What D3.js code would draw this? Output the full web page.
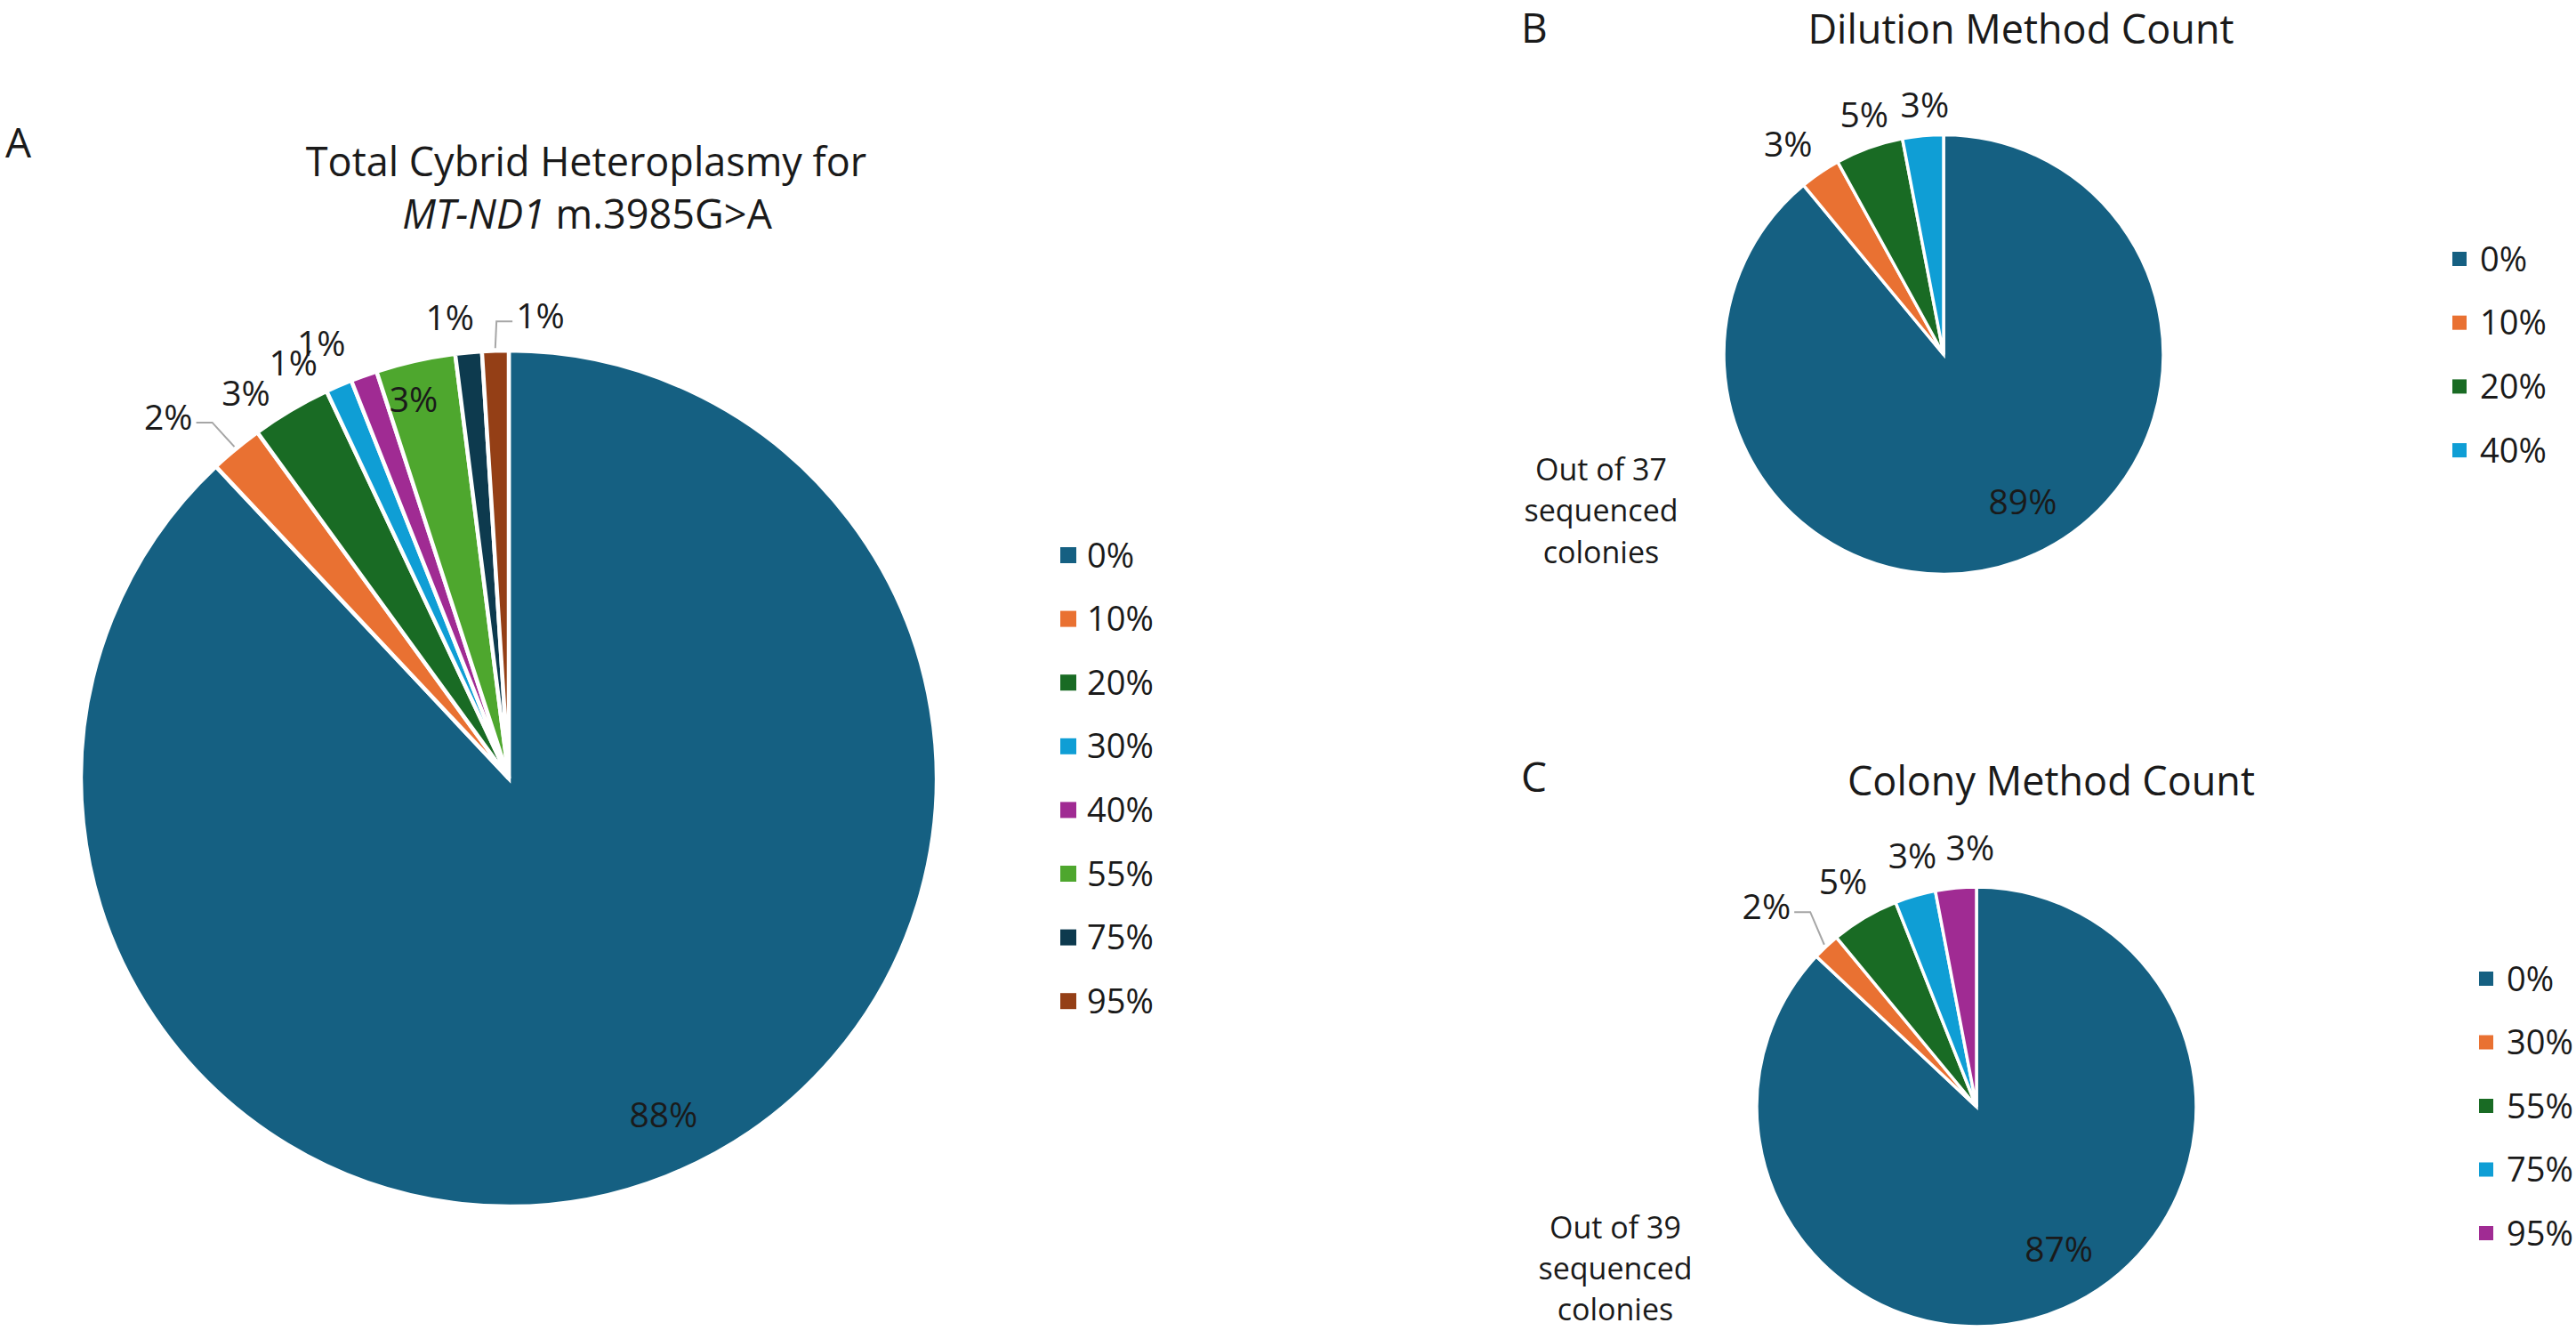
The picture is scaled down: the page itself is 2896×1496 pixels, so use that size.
<!DOCTYPE html>
<html><head><meta charset="utf-8">
<script src="https://cdn.jsdelivr.net/npm/d3@7"></script>
<style>
html,body{margin:0;padding:0;background:#fff;}
svg{display:block;font-family:"Open Sans",sans-serif;}
</style></head><body>
<svg id="chart" width="2896" height="1496"></svg>
<script>
// ---- data ----
const categoriesA = ["0%","10%","20%","30%","40%","55%","75%","95%"];
const valuesA     = [88, 2, 3, 1, 1, 3, 1, 1];
const categoriesB = ["0%","10%","20%","40%"];
const valuesB     = [89, 3, 5, 3];
const categoriesC = ["0%","30%","55%","75%","95%"];
const valuesC     = [87, 2, 5, 3, 3];
const titleA1 = "Total Cybrid Heteroplasmy for";
const titleA2italic = "MT-ND1";
const titleA2rest = " m.3985G>A";
const titleB = "Dilution Method Count";
const titleC = "Colony Method Count";
const noteB = ["Out of 37","sequenced","colonies"];
const noteC = ["Out of 39","sequenced","colonies"];

// ---- styling / layout ----
const palette = ["#156082","#E97132","#196B24","#0F9ED5","#A02B93","#4EA72E","#0D3A4E","#943F16"];
const svg = d3.select("#chart");
const textColor = "#1a1a1a";

const panels = [
  { cats: categoriesA, vals: valuesA, cx: 572, cy: 875, r: 481, stroke: 4.5,
    letter: "A", letterX: 6, letterY: 177,
    legendX: 1192, legendY0: 624, legendStep: 71.6, sw: 18, textGap: 12, legendFont: 38,
    labels: [ {f:0.865, da:-3.1}, {f:1.16, da:-3.7, leader:"right"}, {f:1.09, da:-3.7},
              {f:1.094, da:-4}, {f:1.108, da:-3.5}, {f:0.913, da:-1.5},
              {f:1.085, da:-1.9}, {f:1.083, da:5.7, leader:"left"} ] },
  { cats: categoriesB, vals: valuesB, cx: 2185, cy: 398.5, r: 247, stroke: 3.5,
    letter: "B", letterX: 1710, letterY: 48,
    legendX: 2757, legendY0: 291, legendStep: 71.7, sw: 16, textGap: 15, legendFont: 38,
    labels: [ {f:0.76, da:-8.5}, {f:1.19, da:-2.3}, {f:1.15, da:1.5}, {f:1.14, da:1.1} ] },
  { cats: categoriesC, vals: valuesC, cx: 2222, cy: 1244, r: 247, stroke: 3.5,
    letter: "C", letterX: 1710, letterY: 890,
    legendX: 2787, legendY0: 1100, legendStep: 71.5, sw: 16, textGap: 15, legendFont: 38,
    labels: [ {f:0.75, da:-6.6}, {f:1.32, da:-3.2, leader:"right"}, {f:1.19, da:-0.1},
              {f:1.18, da:1.9}, {f:1.18, da:4.0} ] }
];

const pie = d3.pie().sort(null).value(d => d).startAngle(0).endAngle(2 * Math.PI);

panels.forEach(p => {
  const g = svg.append("g");
  const arcs = pie(p.vals);
  const arc = d3.arc().innerRadius(0).outerRadius(p.r);
  const color = d3.scaleOrdinal().domain(p.cats).range(palette);

  g.selectAll("path.slice").data(arcs).enter().append("path")
    .attr("class", "slice")
    .attr("transform", `translate(${p.cx},${p.cy})`)
    .attr("d", arc)
    .attr("fill", (d, i) => color(p.cats[i]))
    .attr("stroke", "#fff")
    .attr("stroke-width", p.stroke)
    .attr("stroke-linejoin", "miter");

  // data labels
  arcs.forEach((d, i) => {
    const L = p.labels[i];
    const a = (d.startAngle + d.endAngle) / 2 + L.da * Math.PI / 180;
    const x = p.cx + L.f * p.r * Math.sin(a);
    const y = p.cy - L.f * p.r * Math.cos(a);
    const t = g.append("text")
      .attr("x", x).attr("y", y).attr("dy", "0.36em")
      .attr("text-anchor", "middle")
      .attr("font-size", 39)
      .attr("fill", textColor)
      .text(Math.round(p.vals[i]) + "%");
    if (L.leader) {
      const bb = t.node().getBBox();
      const mid = (d.startAngle + d.endAngle) / 2;
      const ex = p.cx + (p.r + 3) * Math.sin(mid);
      const ey = p.cy - (p.r + 3) * Math.cos(mid);
      const ly = y + 6;
      let sx, kx;
      if (L.leader === "right") { sx = bb.x + bb.width + 4; kx = sx + 18; }
      else { sx = bb.x - 4; kx = sx - 18; }
      g.append("path")
        .attr("d", `M${sx},${ly}L${kx},${ly}L${ex},${ey}`)
        .attr("fill", "none").attr("stroke", "#a6a6a6").attr("stroke-width", 2);
    }
  });

  // legend
  const lg = g.append("g");
  p.cats.forEach((c, i) => {
    const yy = p.legendY0 + i * p.legendStep;
    lg.append("rect").attr("x", p.legendX).attr("y", yy - p.sw / 2)
      .attr("width", p.sw).attr("height", p.sw).attr("fill", color(c));
    lg.append("text").attr("x", p.legendX + p.sw + p.textGap).attr("y", yy)
      .attr("dy", "0.36em").attr("font-size", p.legendFont).attr("fill", textColor).text(c);
  });

  // panel letter
  g.append("text").attr("x", p.letterX).attr("y", p.letterY)
    .attr("font-size", 46).attr("fill", textColor).text(p.letter);
});

// titles
const tA = svg.append("text").attr("text-anchor", "middle").attr("font-size", 45).attr("fill", textColor);
tA.append("tspan").attr("x", 659).attr("y", 198).text(titleA1);
const tA2 = svg.append("text").attr("text-anchor", "middle").attr("font-size", 45).attr("fill", textColor)
  .attr("x", 660).attr("y", 257);
tA2.append("tspan").attr("font-style", "italic").text(titleA2italic);
tA2.append("tspan").text(titleA2rest);

svg.append("text").attr("x", 2272).attr("y", 49).attr("text-anchor", "middle")
  .attr("font-size", 45).attr("fill", textColor).text(titleB);
svg.append("text").attr("x", 2306).attr("y", 894).attr("text-anchor", "middle")
  .attr("font-size", 45).attr("fill", textColor).text(titleC);

// side notes
function note(lines, x, ys) {
  lines.forEach((s, i) => {
    svg.append("text").attr("x", x).attr("y", ys[i]).attr("dy", "0.36em")
      .attr("text-anchor", "middle").attr("font-size", 34).attr("fill", textColor).text(s);
  });
}
note(noteB, 1800, [528, 574, 621]);
note(noteC, 1816, [1380, 1426, 1472]);
</script>
</body></html>
